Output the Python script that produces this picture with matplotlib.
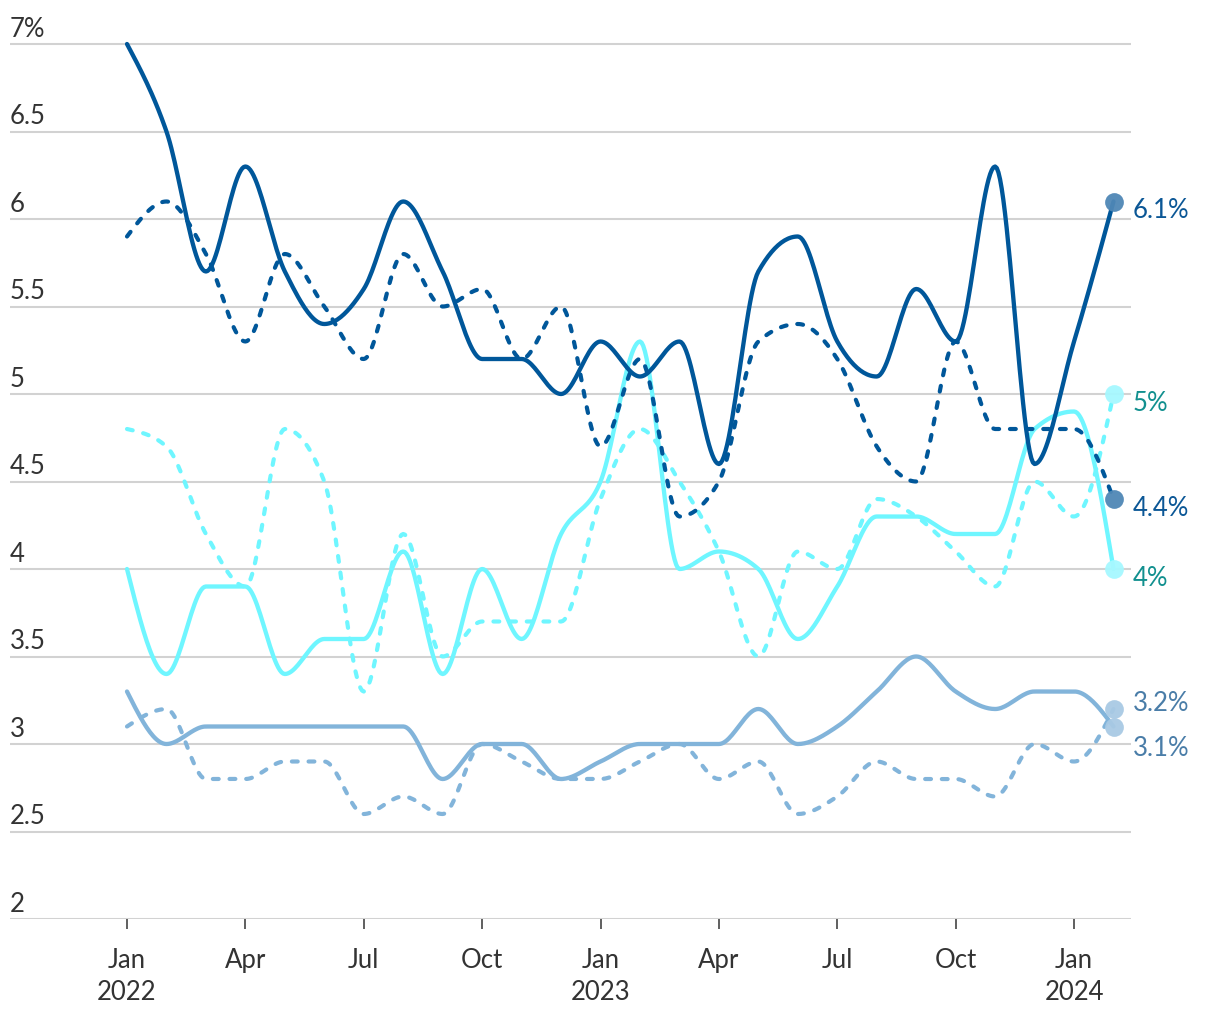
import numpy as np
import matplotlib
matplotlib.use("Agg")
import matplotlib.pyplot as plt

# ---------------- data ----------------
months = ["2022-01", "2022-02", "2022-03", "2022-04", "2022-05", "2022-06", "2022-07",
          "2022-08", "2022-09", "2022-10", "2022-11", "2022-12", "2023-01", "2023-02",
          "2023-03", "2023-04", "2023-05", "2023-06", "2023-07", "2023-08", "2023-09",
          "2023-10", "2023-11", "2023-12", "2024-01", "2024-02"]

dark_solid = [7.0, 6.5, 5.7, 6.3, 5.7, 5.4, 5.6, 6.1, 5.7, 5.2, 5.2, 5.0, 5.3, 5.1,
              5.3, 4.6, 5.7, 5.9, 5.3, 5.1, 5.6, 5.3, 6.3, 4.6, 5.3, 6.1]
dark_dashed = [5.9, 6.1, 5.8, 5.3, 5.8, 5.5, 5.2, 5.8, 5.5, 5.6, 5.2, 5.5, 4.7, 5.2,
               4.3, 4.5, 5.3, 5.4, 5.2, 4.7, 4.5, 5.3, 4.8, 4.8, 4.8, 4.4]
cyan_solid = [4.0, 3.4, 3.9, 3.9, 3.4, 3.6, 3.6, 4.1, 3.4, 4.0, 3.6, 4.2, 4.5, 5.3,
              4.0, 4.1, 4.0, 3.6, 3.9, 4.3, 4.3, 4.2, 4.2, 4.8, 4.9, 4.0]
cyan_dashed = [4.8, 4.7, 4.2, 3.9, 4.8, 4.5, 3.3, 4.2, 3.5, 3.7, 3.7, 3.7, 4.4, 4.8,
               4.5, 4.1, 3.5, 4.1, 4.0, 4.4, 4.3, 4.1, 3.9, 4.5, 4.3, 5.0]
steel_solid = [3.3, 3.0, 3.1, 3.1, 3.1, 3.1, 3.1, 3.1, 2.8, 3.0, 3.0, 2.8, 2.9, 3.0,
               3.0, 3.0, 3.2, 3.0, 3.1, 3.3, 3.5, 3.3, 3.2, 3.3, 3.3, 3.1]
steel_dashed = [3.1, 3.2, 2.8, 2.8, 2.9, 2.9, 2.6, 2.7, 2.6, 3.0, 2.9, 2.8, 2.8, 2.9,
                3.0, 2.8, 2.9, 2.6, 2.7, 2.9, 2.8, 2.8, 2.7, 3.0, 2.9, 3.2]

end_labels = ["6.1%", "4.4%", "4%", "5%", "3.1%", "3.2%"]

y_ticks = [2, 2.5, 3, 3.5, 4, 4.5, 5, 5.5, 6, 6.5, 7]
y_tick_labels = ["2", "2.5", "3", "3.5", "4", "4.5", "5", "5.5", "6", "6.5", "7%"]
x_tick_pos = [0, 3, 6, 9, 12, 15, 18, 21, 24]
x_tick_labels = ["Jan\n2022", "Apr", "Jul", "Oct", "Jan\n2023", "Apr", "Jul", "Oct", "Jan\n2024"]

# ---------------- helpers ----------------
def monotone_x(x, y, n=24):
    x = np.asarray(x, float)
    y = np.asarray(y, float)
    h = np.diff(x)
    s = np.diff(y) / h
    m = len(x)
    t = np.zeros(m)
    for i in range(1, m - 1):
        h0, h1 = h[i - 1], h[i]
        s0, s1 = s[i - 1], s[i]
        p = (s0 * h1 + s1 * h0) / (h0 + h1)
        t[i] = (np.sign(s0) + np.sign(s1)) * min(abs(s0), abs(s1), 0.5 * abs(p))
    t[0] = (3 * s[0] - t[1]) / 2 if m > 2 else s[0]
    t[-1] = (3 * s[-1] - t[-2]) / 2 if m > 2 else s[-1]
    xs, ys = [], []
    for i in range(m - 1):
        u = np.linspace(0, 1, n, endpoint=(i == m - 2))
        hh = h[i]
        h00 = 2 * u**3 - 3 * u**2 + 1
        h10 = u**3 - 2 * u**2 + u
        h01 = -2 * u**3 + 3 * u**2
        h11 = u**3 - u**2
        xs.append(x[i] + u * hh)
        ys.append(h00 * y[i] + h10 * hh * t[i] + h01 * y[i + 1] + h11 * hh * t[i + 1])
    return np.concatenate(xs), np.concatenate(ys)

# ---------------- figure ----------------
plt.rcParams['font.family'] = ['Lato', 'DejaVu Sans']
W, H = 1220, 1020
fig = plt.figure(figsize=(W / 100, H / 100), dpi=100)
px_left, px_right, px_top, px_bottom = 10, 1131, 20, 920
ax = fig.add_axes([px_left / W, 1 - px_bottom / H, (px_right - px_left) / W, (px_bottom - px_top) / H])

mstep = 39.46
x0px = 127
ax.set_xlim((px_left - x0px) / mstep, (px_right - x0px) / mstep)
ax.set_ylim(2, 7 + (45 - px_top) / 175)

for s in ax.spines.values():
    s.set_visible(False)

FS = 18.5
grid_col = "#d2d2d2"
for v, lab in zip(y_ticks, y_tick_labels):
    ax.axhline(v, color=grid_col, lw=1.5, zorder=1)
    ax.annotate(lab, xy=(0, v), xycoords=("axes fraction", "data"),
                xytext=(0, 2.5), textcoords="offset points",
                ha="left", va="bottom", fontsize=FS, color="#333333")

ax.set_yticks([])
ax.set_xticks(x_tick_pos)
ax.set_xticklabels(x_tick_labels, fontsize=FS, color="#333333", linespacing=1.35)
ax.tick_params(axis="x", direction="out", length=7, width=1.2, color="#444444", pad=13)
for lbl in ax.get_xticklabels():
    lbl.set_verticalalignment("top")

xi = np.arange(len(months))

DARK = "#00579a"
CYAN = "#6ff6ff"
STEEL = "#82b4da"

series = [
    (steel_dashed, STEEL, True, "#a9cae4", "#4a7da8", end_labels[5], 5),
    (steel_solid, STEEL, False, "#a9cae4", "#4a7da8", end_labels[4], -15),
    (cyan_dashed, CYAN, True, "#a6f8ff", "#12908f", end_labels[3], -6),
    (cyan_solid, CYAN, False, "#a6f8ff", "#12908f", end_labels[2], -6),
    (dark_dashed, DARK, True, "#4f87b6", "#0b5796", end_labels[1], -6),
    (dark_solid, DARK, False, "#4f87b6", "#0b5796", end_labels[0], -6),
]

z = 3
for vals, col, dashed, dotcol, labcol, lab, dy in series:
    xs, ys = monotone_x(xi, vals)
    if dashed:
        ax.plot(xs, ys, color=col, lw=3, dashes=(1.4, 2.6), dash_capstyle="round",
                solid_capstyle="round", zorder=z)
    else:
        ax.plot(xs, ys, color=col, lw=3.1, solid_capstyle="round", solid_joinstyle="round", zorder=z)
    z += 1

for vals, col, dashed, dotcol, labcol, lab, dy in series:
    ax.plot([xi[-1]], [vals[-1]], "o", ms=13.5, color=dotcol, alpha=0.95, mec="none", zorder=20)
    ax.annotate(lab, xy=(xi[-1], vals[-1]), xytext=(14, dy), textcoords="offset points",
                ha="left", va="center", fontsize=FS, color=labcol, annotation_clip=False)

fig.savefig("out.png", dpi=100)
